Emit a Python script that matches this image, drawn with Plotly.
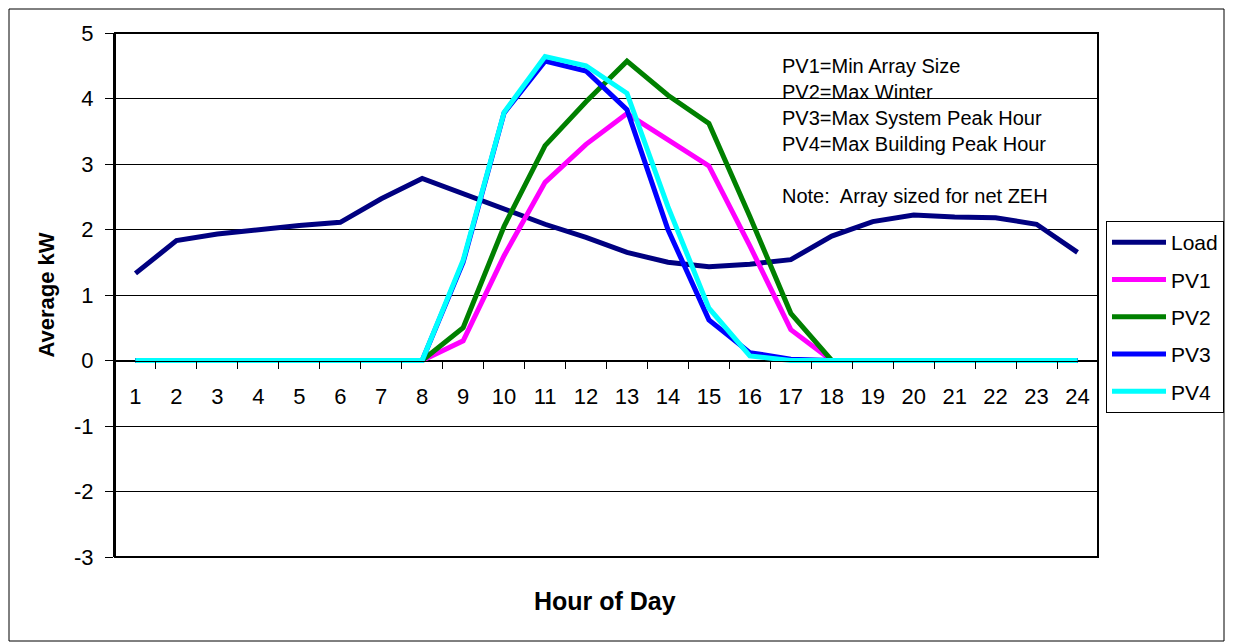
import plotly.graph_objects as go

# hour of day (categories)
hours = [str(h) for h in range(1, 25)]

# average kW per hour
load = [1.33, 1.83, 1.93, 2.00, 2.06, 2.11, 2.47, 2.78, 2.54, 2.30, 2.08, 1.88,
        1.65, 1.50, 1.43, 1.47, 1.54, 1.90, 2.12, 2.22, 2.19, 2.18, 2.08, 1.65]
pv1 = [0, 0, 0, 0, 0, 0, 0, 0, 0.30, 1.60, 2.72, 3.30,
       3.77, 3.37, 2.97, 1.75, 0.47, 0, 0, 0, 0, 0, 0, 0]
pv2 = [0, 0, 0, 0, 0, 0, 0, 0, 0.50, 2.05, 3.28, 3.95,
       4.57, 4.05, 3.62, 2.20, 0.72, 0, 0, 0, 0, 0, 0, 0]
pv3 = [0, 0, 0, 0, 0, 0, 0, 0, 1.50, 3.78, 4.57, 4.42,
       3.83, 2.00, 0.62, 0.12, 0.02, 0, 0, 0, 0, 0, 0, 0]
pv4 = [0, 0, 0, 0, 0, 0, 0, 0, 1.53, 3.79, 4.64, 4.50,
       4.08, 2.35, 0.80, 0.07, 0, 0, 0, 0, 0, 0, 0, 0]

# y tick labels (plain hyphen minus, like the original)
y_ticks = [-3, -2, -1, 0, 1, 2, 3, 4, 5]
y_tick_text = ["-3", "-2", "-1", "0", "1", "2", "3", "4", "5"]

series = [("Load", load, "#000080"),
          ("PV1", pv1, "#FF00FF"),
          ("PV2", pv2, "#008000"),
          ("PV3", pv3, "#0000FF"),
          ("PV4", pv4, "#00FFFF")]

note_lines = ["PV1=Min Array Size", "PV2=Max Winter", "PV3=Max System Peak Hour",
              "PV4=Max Building Peak Hour", "", "Note:  Array sized for net ZEH"]

FONT = "Arial, Liberation Sans, sans-serif"

# page is shown with the browser's 8px body margin, so lay out in page pixels
W, H = 1233, 644
OFF = 8
L, R, T, B = 115, 1098, 33, 557   # plot area in page pixels


def px(x):
    return (x - L) / (R - L)


def py(y):
    return (B - y) / (B - T)


fig = go.Figure()
for name, vals, color in series:
    fig.add_trace(go.Scatter(
        x=hours, y=vals, name=name, mode="lines",
        line=dict(color=color, width=5),
        legendgroup=name,
    ))

fig.update_layout(
    width=W, height=H,
    margin=dict(l=L - OFF, r=W - (R - OFF), t=T - OFF, b=H - (B - OFF),
                autoexpand=False),
    paper_bgcolor="white", plot_bgcolor="white",
    font=dict(family=FONT, size=20, color="black"),
    xaxis=dict(
        type="category", range=[-0.5, 23.5], tickson="boundaries",
        anchor="free", position=0.375,
        showline=True, linecolor="black", linewidth=1,
        ticks="outside", ticklen=7, tickcolor="black",
        ticklabelstandoff=16,
        showgrid=False, zeroline=False,
        tickfont=dict(size=22),
    ),
    yaxis=dict(
        range=[-3, 5], tickmode="array", tickvals=y_ticks, ticktext=y_tick_text,
        showgrid=True, gridcolor="black", gridwidth=1,
        zeroline=False,
        showline=True, linecolor="black", linewidth=2,
        ticks="outside", ticklen=8, tickcolor="black",
        ticklabelstandoff=7,
        tickfont=dict(size=22),
        title=dict(text="<b>Average kW</b>", font=dict(size=22), standoff=13),
    ),
    legend=dict(
        x=px(1106), y=py(221), xanchor="left", yanchor="top",
        bordercolor="black", borderwidth=1, bgcolor="white",
        font=dict(size=21), itemwidth=54, tracegroupgap=7,
    ),
    showlegend=True,
)

# plot area border and chart border
fig.add_shape(type="rect", xref="paper", yref="paper", x0=0, x1=1, y0=0, y1=1,
              line=dict(color="black", width=2))
fig.add_shape(type="rect", xref="paper", yref="paper",
              x0=px(9), x1=px(1224), y0=py(641), y1=py(9),
              line=dict(color="black", width=1))

# white box behind the note text (hides gridlines)
fig.add_shape(type="rect", xref="paper", yref="paper", layer="between",
              x0=px(782), x1=px(1075), y0=py(212), y1=py(50),
              line=dict(width=0), fillcolor="white")

fig.add_annotation(
    text="<br>".join(note_lines), xref="paper", yref="paper",
    x=px(780), y=py(53), xanchor="left", yanchor="top",
    align="left", showarrow=False, font=dict(size=20),
)

fig.add_annotation(
    text="<b>Hour of Day</b>", xref="paper", yref="paper",
    x=px(605), y=py(601), xanchor="center", yanchor="middle",
    showarrow=False, font=dict(size=25),
)

fig.write_html("out.html")
